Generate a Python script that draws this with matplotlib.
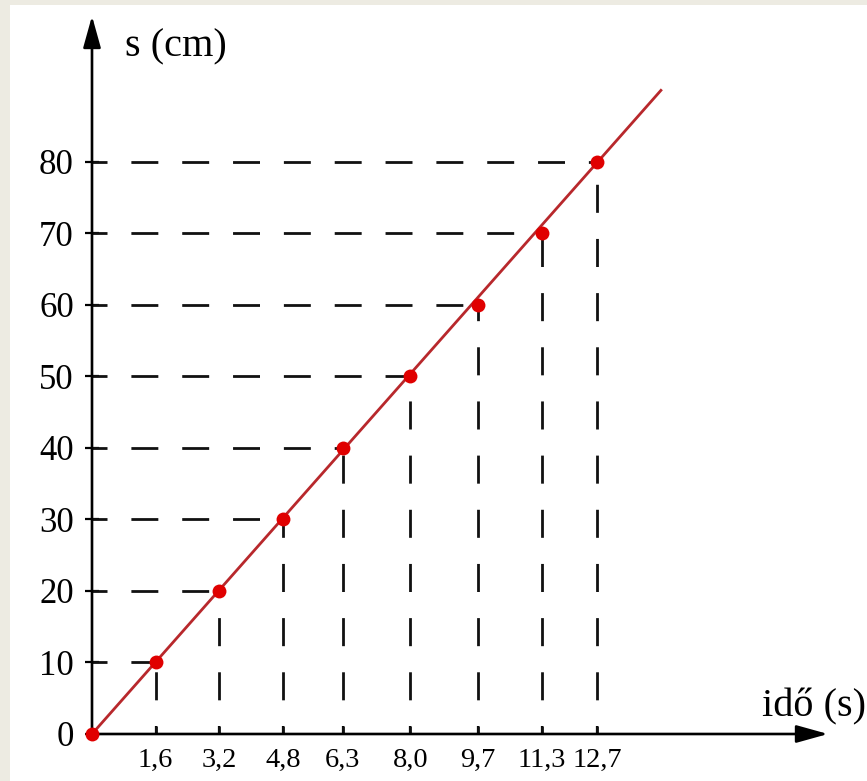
import matplotlib.pyplot as plt
from matplotlib.patches import Rectangle

# measured values (idő in s, distance in cm)
t_vals = [0, 1.6, 3.2, 4.8, 6.3, 8.0, 9.7, 11.3, 12.7]
s_vals = [0, 10, 20, 30, 40, 50, 60, 70, 80]
t_labels = ["1,6", "3,2", "4,8", "6,3", "8,0", "9,7", "11,3", "12,7"]
s_ticks = [0, 10, 20, 30, 40, 50, 60, 70, 80]

# fitted line end points
fit_t = [0, 14.3]
fit_s = [0, 90]

W, H = 867, 781
plt.rcParams["font.family"] = ["Liberation Serif", "DejaVu Serif"]

fig = plt.figure(figsize=(W / 100, H / 100), dpi=100, facecolor="#EDEBE2")
fig.patches.append(Rectangle((10 / W, 0), 1, (H - 5) / H, transform=fig.transFigure,
                             facecolor="white", edgecolor="none", zorder=-10))

xmax, ymax = 18.5, 100.4
x0, y0 = 92, 734
ax = fig.add_axes([x0 / W, (H - y0) / H, 736 / W, 718 / H])
ax.set_zorder(5)
ax.set_facecolor("none")
ax.set_xlim(0, xmax)
ax.set_ylim(0, ymax)
for sp in ax.spines.values():
    sp.set_visible(False)

lw = 2.0
# axes with arrows
arrow = dict(arrowstyle="-|>,head_length=0.97,head_width=0.27", lw=1.9, color="black",
             shrinkA=0, shrinkB=0, mutation_scale=20)
ax.annotate("", xy=(xmax, 0), xytext=(0, 0), arrowprops=arrow, annotation_clip=False)
ax.annotate("", xy=(0, ymax), xytext=(0, 0), arrowprops=arrow, annotation_clip=False)

# guide lines
for t, s in zip(t_vals[1:], s_vals[1:]):
    ax.plot([0, t], [s, s], color="#111111", lw=lw, linestyle=(4.3, (9.7, 8.6)),
            dash_capstyle="butt", zorder=2)
    ax.plot([t, t], [0, s], color="#111111", lw=lw, linestyle=(7.2, (10.1, 9.4)),
            dash_capstyle="butt", zorder=2)

ax.plot(fit_t, fit_s, color="#B8282C", lw=2.0, zorder=3, clip_on=False)
ax.plot(t_vals, s_vals, "o", color="#E00000", markersize=10, markeredgewidth=0,
        zorder=4, clip_on=False)

ax.set_xticks(t_vals[1:])
ax.set_xticklabels(t_labels)
ax.set_yticks(s_ticks)
ax.set_yticklabels([str(v) for v in s_ticks])
ax.tick_params(axis="x", direction="in", length=5.8, width=1.6, pad=10, labelsize=20.5)
ax.tick_params(axis="y", direction="inout", length=10, width=1.6, pad=8, labelsize=25)

ax.text(0.83, 94.7, "s (cm)", fontsize=29, ha="left", va="baseline")
ax.text(16.83, 2.4, "idő (s)", fontsize=29, ha="left", va="baseline", clip_on=False)

fig.savefig("out.png", dpi=100, facecolor=fig.get_facecolor())
